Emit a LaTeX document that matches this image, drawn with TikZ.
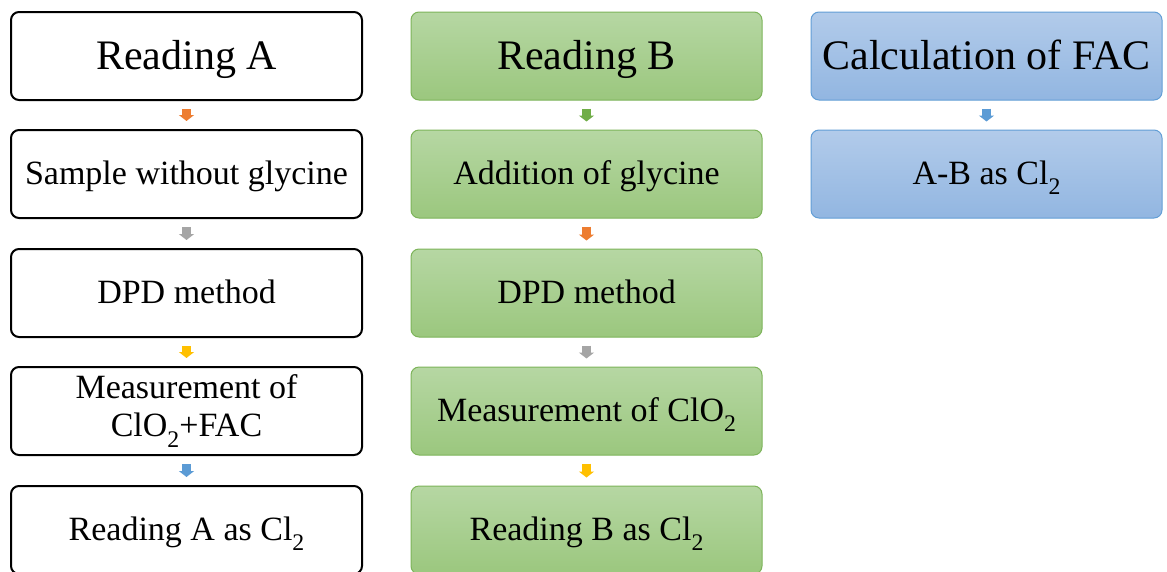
\documentclass[tikz,border=0pt]{standalone}
\usepackage{fontspec}
\setmainfont{Liberation Serif}
\usetikzlibrary{arrows.meta,calc}
\newcommand\subtwo{\raisebox{-0.3em}{\scalebox{0.7}{2}}}
\definecolor{aorange}{RGB}{237,125,49}
\definecolor{agreen}{RGB}{112,173,71}
\definecolor{ablue}{RGB}{91,155,213}
\definecolor{agrey}{RGB}{165,165,165}
\definecolor{ayellow}{RGB}{255,192,0}
\definecolor{gtop}{RGB}{182,215,163}
\definecolor{gbot}{RGB}{155,199,126}
\definecolor{gborder}{RGB}{125,180,90}
\definecolor{btop}{RGB}{178,203,234}
\definecolor{bbot}{RGB}{146,182,225}
\definecolor{bborder}{RGB}{98,158,214}
\tikzset{
  box/.style={rectangle, rounded corners=8pt, minimum width=351pt, minimum height=88pt,
    inner sep=0pt, align=center, font=\fontsize{34}{38}\selectfont, text=black},
  one/.style={text height=29pt, text depth=8pt},
  wbox/.style={box, draw=black, line width=2pt, fill=white},
  gbox/.style={box, draw=gborder, line width=1pt, top color=gtop, bottom color=gbot},
  bbox/.style={box, draw=bborder, line width=1pt, top color=btop, bottom color=bbot},
  title/.style={font=\fontsize{42}{46}\selectfont, text height=35pt, text depth=9pt},
  flow/.style={draw=#1, line width=9pt, shorten <=8pt, shorten >=8pt,
    -{Triangle[width=15pt,length=6pt,color=#1]}}
}
\begin{document}
\begin{tikzpicture}[x=1pt,y=-1pt]
\useasboundingbox (0,0) rectangle (1167,571);
\clip (0,0) rectangle (1167,571);
\fill[white] (0,0) rectangle (1167,571);
% column A
\node[wbox,title] (a1) at (186.5,56) {Reading A};
\node[wbox,one] (a2) at (186.5,174) {Sample without glycine};
\node[wbox,one] (a3) at (186.5,293) {DPD method};
\node[wbox] (a4) at (186.5,411) {Measurement of\\ClO\subtwo+FAC};
\node[wbox,one] (a5) at (186.5,530) {Reading A as Cl\subtwo};
% column B
\node[gbox,title] (b1) at (586.5,56) {Reading B};
\node[gbox,one] (b2) at (586.5,174) {Addition of glycine};
\node[gbox,one] (b3) at (586.5,293) {DPD method};
\node[gbox,one] (b4) at (586.5,411) {Measurement of ClO\subtwo};
\node[gbox,one] (b5) at (586.5,530) {Reading B as Cl\subtwo};
% column C
\node[bbox,title] (c1) at (986.5,56) {Calculation of FAC};
\node[bbox,one] (c2) at (986.5,174) {A-B as Cl\subtwo};
% arrows
\draw[flow=aorange] (a1.south) -- (a2.north);
\draw[flow=agrey] (a2.south) -- (a3.north);
\draw[flow=ayellow] (a3.south) -- (a4.north);
\draw[flow=ablue] (a4.south) -- (a5.north);
\draw[flow=agreen] (b1.south) -- (b2.north);
\draw[flow=aorange] (b2.south) -- (b3.north);
\draw[flow=agrey] (b3.south) -- (b4.north);
\draw[flow=ayellow] (b4.south) -- (b5.north);
\draw[flow=ablue] (c1.south) -- (c2.north);
\end{tikzpicture}
\end{document}
